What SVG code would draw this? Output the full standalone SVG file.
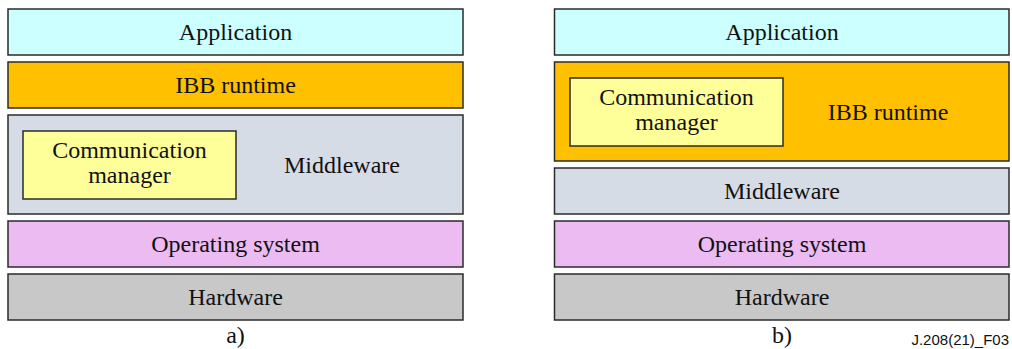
<svg xmlns="http://www.w3.org/2000/svg" width="1012" height="349" viewBox="0 0 1012 349">
<style>
rect{stroke:#2b2b2b;stroke-width:1.5}
text{font-family:"Liberation Serif","Times New Roman",serif;font-size:24px;fill:#111;text-anchor:middle}
.app{fill:#CCFFFF}.ibb{fill:#FFC000}.mw{fill:#D6DCE5}.cm{fill:#FFFF99}.os{fill:#EBBBF1}.hw{fill:#C8C8C8}
.tag{font-family:"Liberation Sans",Arial,sans-serif;font-size:15px;text-anchor:end}
</style>
<rect width="1012" height="349" fill="#fff" style="stroke:none"/>
<g id="a">
<g id="a-app"><rect class="app" x="8" y="9" width="455" height="46"/><text x="235.5" y="40">Application</text></g>
<g id="a-ibb"><rect class="ibb" x="8" y="62" width="455" height="46"/><text x="235.5" y="93">IBB runtime</text></g>
<g id="a-mw"><rect class="mw" x="8" y="115" width="455" height="99"/><text x="342" y="173">Middleware</text></g>
<g id="a-cm"><rect class="cm" x="23" y="131" width="213" height="68"/><text x="129.5" y="158">Communication</text><text x="129.5" y="183">manager</text></g>
<g id="a-os"><rect class="os" x="8" y="221" width="455" height="46"/><text x="235.5" y="252">Operating system</text></g>
<g id="a-hw"><rect class="hw" x="8" y="274" width="455" height="46"/><text x="235.5" y="305">Hardware</text></g>
<text id="a-label" x="235.5" y="343">a)</text>
</g>
<g id="b">
<g id="b-app"><rect class="app" x="554.5" y="9" width="454.5" height="46"/><text x="782" y="40">Application</text></g>
<g id="b-ibb"><rect class="ibb" x="554.5" y="62" width="454.5" height="99"/><text x="888" y="120">IBB runtime</text></g>
<g id="b-cm"><rect class="cm" x="570" y="78" width="213" height="68"/><text x="676.5" y="105">Communication</text><text x="676.5" y="130">manager</text></g>
<g id="b-mw"><rect class="mw" x="554.5" y="168" width="454.5" height="46"/><text x="782" y="199">Middleware</text></g>
<g id="b-os"><rect class="os" x="554.5" y="221" width="454.5" height="46"/><text x="782" y="252">Operating system</text></g>
<g id="b-hw"><rect class="hw" x="554.5" y="274" width="454.5" height="46"/><text x="782" y="305">Hardware</text></g>
<text id="b-label" x="782" y="343">b)</text>
</g>
<text class="tag" x="1009" y="345">J.208(21)_F03</text>
<g id="connectors"/>
</svg>
